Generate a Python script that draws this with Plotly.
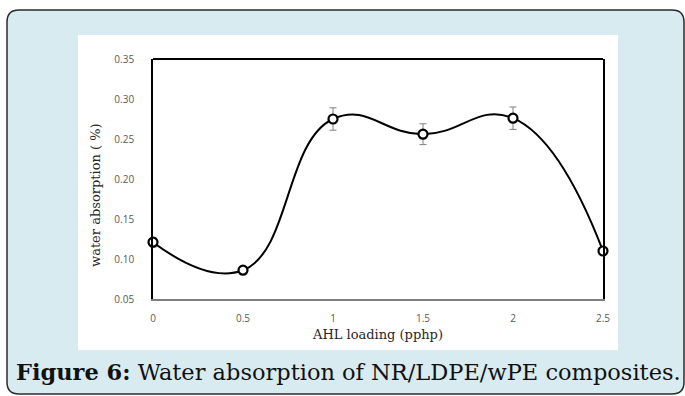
import plotly.graph_objects as go

# ---- data ----
loading = [0, 0.5, 1, 1.5, 2, 2.5]
absorption = [0.121, 0.086, 0.275, 0.256, 0.276, 0.110]
error = [0.006, 0.003, 0.014, 0.013, 0.014, 0.003]
x_ticks = [0, 0.5, 1, 1.5, 2, 2.5]
x_tick_labels = ["0", "0.5", "1", "1.5", "2", "2.5"]
y_ticks = [0.05, 0.10, 0.15, 0.20, 0.25, 0.30, 0.35]
y_tick_labels = ["0.05", "0.10", "0.15", "0.20", "0.25", "0.30", "0.35"]

W, H = 685, 396
PL, PR, PT, PB = 153, 603, 59, 299  # plot area in pixels


def px(x):
    return (x - PL) / (PR - PL)


def py(y):
    return (PB - y) / (PB - PT)


BLUE = "#d7ebf1"

fig = go.Figure()
fig.add_trace(go.Scatter(
    x=loading, y=absorption,
    mode="lines+markers",
    line=dict(color="black", width=2, shape="spline", smoothing=1.3),
    marker=dict(symbol="circle", size=9, color="white",
                line=dict(color="black", width=2.2)),
    error_y=dict(type="data", array=error, visible=True,
                 color="#808080", thickness=1, width=3.5),
    cliponaxis=False,
    showlegend=False,
))

# outer rounded frame
L, T, R, B, r = 7, 10, 684, 394, 12
path = (
    f"M {px(L)},{py(T + r)} "
    f"Q {px(L)},{py(T)} {px(L + r)},{py(T)} "
    f"L {px(R - r)},{py(T)} "
    f"Q {px(R)},{py(T)} {px(R)},{py(T + r)} "
    f"L {px(R)},{py(B - r)} "
    f"Q {px(R)},{py(B)} {px(R - r)},{py(B)} "
    f"L {px(L + r)},{py(B)} "
    f"Q {px(L)},{py(B)} {px(L)},{py(B - r)} Z"
)
shapes = [
    dict(type="path", xref="paper", yref="paper", path=path,
         fillcolor=BLUE, line=dict(color="#2b2b2b", width=1.5), layer="below"),
    dict(type="rect", xref="paper", yref="paper",
         x0=px(78), x1=px(618), y0=py(350), y1=py(35),
         fillcolor="white", line=dict(width=0), layer="below"),
    # top border of plot box
    dict(type="line", xref="paper", yref="paper", x0=0, x1=1, y0=1, y1=1,
         line=dict(color="black", width=1.8)),
]

annotations = [
    dict(text="water absorption ( %)", xref="paper", yref="paper",
         x=px(95), y=py(195), showarrow=False, textangle=-90,
         xanchor="center", yanchor="middle",
         font=dict(family="DejaVu Serif", size=13, color="#262626")),
    dict(text="AHL loading (pphp)", xref="paper", yref="paper",
         x=px(377), y=py(334), showarrow=False,
         xanchor="center", yanchor="middle",
         font=dict(family="DejaVu Serif", size=13, color="#262626")),
    dict(text="<b>Figure 6:</b> Water absorption of NR/LDPE/wPE composites.",
         xref="paper", yref="paper", x=px(14), y=py(372), showarrow=False,
         xanchor="left", yanchor="middle",
         font=dict(family="DejaVu Serif", size=22.5, color="#111111")),
]

fig.update_layout(
    width=W, height=H,
    margin=dict(l=PL, r=W - PR, t=PT, b=H - PB, pad=0),
    paper_bgcolor="white",
    plot_bgcolor="rgba(0,0,0,0)",
    shapes=shapes,
    annotations=annotations,
    xaxis=dict(range=[0, 2.5], tickvals=x_ticks, ticktext=x_tick_labels,
               showgrid=False, zeroline=False, showline=True,
               linecolor="#7f7f7f", linewidth=1.8, ticks="",
               ticklabelstandoff=9,
               tickfont=dict(family="Open Sans", size=10, color="#595959")),
    yaxis=dict(range=[0.05, 0.35], tickvals=y_ticks, ticktext=y_tick_labels,
               showgrid=False, zeroline=False, showline=True, mirror=True,
               linecolor="black", linewidth=1.8, ticks="",
               ticklabelstandoff=15,
               tickfont=dict(family="Open Sans", size=10, color="#595959")),
)

fig.write_html("out.html")
